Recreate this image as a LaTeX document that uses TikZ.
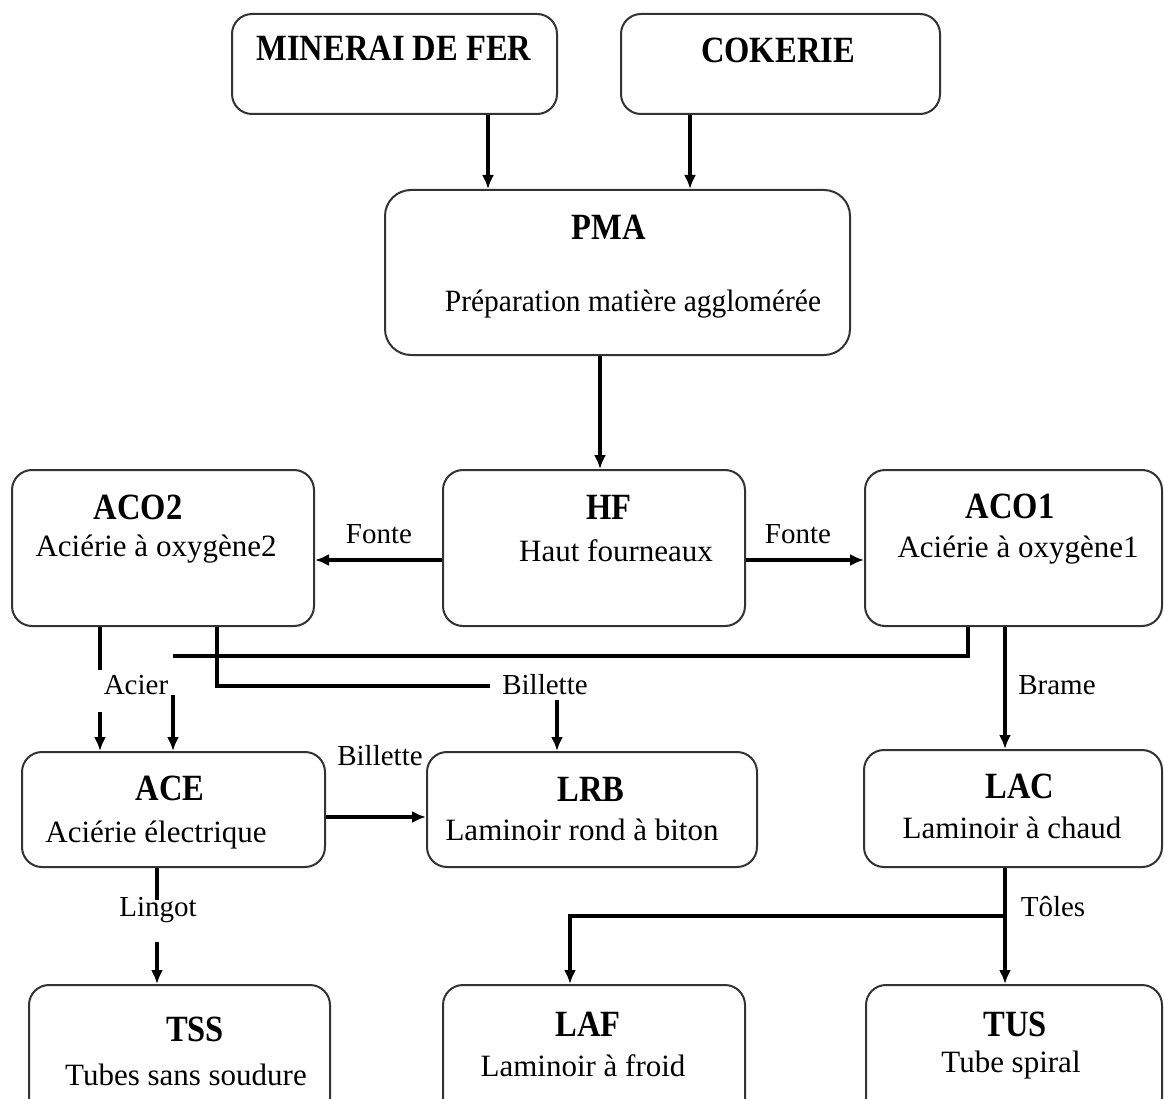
\documentclass[tikz,border=0pt]{standalone}
\usepackage{fontspec}
\setmainfont{Liberation Serif}
\usepackage{graphicx}
\usetikzlibrary{arrows.meta}
\newcommand\ttl[1]{\scalebox{0.88}[1]{#1}}
\begin{document}
\begin{tikzpicture}[x=1pt,y=-1pt,
  box/.style={draw=black!80, line width=2pt, rounded corners=20pt, fill=white, inner sep=0pt},
  title/.style={inner sep=0pt, anchor=base, font=\fontsize{37}{40}\selectfont\bfseries},
  body/.style={inner sep=0pt, anchor=base, font=\fontsize{31}{34}\selectfont},
  lab/.style={inner sep=0pt, anchor=base, font=\fontsize{29}{32}\selectfont},
  conn/.style={line width=3.5pt},
  arr/.style={conn, -{Latex[length=14pt,width=12pt]}}]
\useasboundingbox (0,0) rectangle (1164,1099);
\clip (0,0) rectangle (1164,1099);
\fill[white] (0,0) rectangle (1164,1099);

% boxes
\node[box, minimum width=325pt, minimum height=100pt] (min) at (394.5,64) {};
\node[box, minimum width=319pt, minimum height=100pt] (cok) at (780.5,64) {};
\node[box, minimum width=465pt, minimum height=165pt, rounded corners=26pt] (pma) at (617.5,272.5) {};
\node[box, minimum width=302pt, minimum height=156pt] (hf) at (594,548) {};
\node[box, minimum width=302pt, minimum height=156pt] (aco2) at (163,548) {};
\node[box, minimum width=297pt, minimum height=156pt] (aco1) at (1013.5,548) {};
\node[box, minimum width=303pt, minimum height=115pt] (ace) at (173.5,809.5) {};
\node[box, minimum width=330pt, minimum height=115pt] (lrb) at (592,809.5) {};
\node[box, minimum width=298pt, minimum height=117pt] (lac) at (1013,808.5) {};
\node[box, minimum width=301pt, minimum height=145pt] (tss) at (179.5,1057.5) {};
\node[box, minimum width=302pt, minimum height=145pt] (laf) at (594,1057.5) {};
\node[box, minimum width=296pt, minimum height=145pt] (tus) at (1014,1057.5) {};

% texts
\node[title] (tmin) at (394,61) {\ttl{MINERAI DE FER}};
\node[title] (tcok) at (778,63) {\ttl{COKERIE}};
\node[title] (tpma) at (609,240) {\ttl{PMA}};
\node[body] (bpma) at (633,312) {\scalebox{0.95}[1]{Préparation matière agglomérée}};
\node[title] (thf) at (609,519) {\ttl{HF}};
\node[body] (bhf) at (616,561) {Haut fourneaux};
\node[title] (taco2) at (138,519) {\ttl{ACO2}};
\node[body] (baco2) at (156,556) {Aciérie à oxygène2};
\node[title] (taco1) at (1010,518) {\ttl{ACO1}};
\node[body] (baco1) at (1018,557) {Aciérie à oxygène1};
\node[title] (tace) at (170,800) {\ttl{ACE}};
\node[body] (bace) at (156,842) {Aciérie électrique};
\node[title] (tlrb) at (591,801) {\ttl{LRB}};
\node[body] (blrb) at (582,840) {Laminoir rond à biton};
\node[title] (tlac) at (1020,798) {\ttl{LAC}};
\node[body] (blac) at (1012,838) {Laminoir à chaud};
\node[title] (ttss) at (195,1041) {\ttl{TSS}};
\node[body] (btss) at (186,1085) {Tubes sans soudure};
\node[title] (tlaf) at (588,1036) {\ttl{LAF}};
\node[body] (blaf) at (583,1076) {Laminoir à froid};
\node[title] (ttus) at (1015,1036) {\ttl{TUS}};
\node[body] (btus) at (1011,1072) {Tube spiral};

% x / y guides
\coordinate (x100) at (100,0);
\coordinate (x157) at (157,0);
\coordinate (x173) at (173,0);
\coordinate (x217) at (217,0);
\coordinate (x488) at (488,0);
\coordinate (x557) at (557,0);
\coordinate (x570) at (570,0);
\coordinate (x600) at (600,0);
\coordinate (x690) at (690,0);
\coordinate (x968) at (968,0);
\coordinate (x1005) at (1005,0);
\coordinate (y560) at (0,560);
\coordinate (y817) at (0,817);

% connectors
\draw[arr] (min.south -| x488) -- (pma.north -| x488);
\draw[arr] (cok.south -| x690) -- (pma.north -| x690);
\draw[arr] (pma.south -| x600) -- (hf.north -| x600);
\draw[arr] (hf.west |- y560) -- (aco2.east |- y560);
\draw[arr] (hf.east |- y560) -- (aco1.west |- y560);

% ACO2 -> ACE (Acier)
\coordinate (a1) at (100,670);
\coordinate (a2) at (100,712);
\draw[conn] (aco2.south -| x100) -- (a1);
\draw[arr] (a2) -- (ace.north -| x100);
% ACO1 -> ACE (Acier)
\coordinate (b1) at (173,656);
\coordinate (b2) at (173,695);
\draw[conn] (aco1.south -| x968) |- (b1);
\draw[arr] (b2) -- (ace.north -| x173);
% ACO2 -> LRB (Billette)
\coordinate (c1) at (490,686);
\coordinate (c2) at (557,700);
\draw[conn] (aco2.south -| x217) |- (c1);
\draw[arr] (c2) -- (lrb.north -| x557);
% ACE -> LRB
\draw[arr] (ace.east |- y817) -- (lrb.west |- y817);
% ACO1 -> LAC
\draw[arr] (aco1.south -| x1005) -- (lac.north -| x1005);
% LAC -> TUS, LAF
\coordinate (d1) at (1005,916);
\draw[arr] (lac.south -| x1005) -- (tus.north -| x1005);
\draw[arr] (d1) -| (laf.north -| x570);
% ACE -> TSS
\coordinate (e1) at (157,900);
\coordinate (e2) at (157,942);
\draw[conn] (ace.south -| x157) -- (e1);
\draw[arr] (e2) -- (tss.north -| x157);

% labels
\node[lab] (lf1) at (379,543) {Fonte};
\node[lab] (lf2) at (798,543) {Fonte};
\node[lab] (lac1) at (136,694) {Acier};
\node[lab] (lbi1) at (545,694) {Billette};
\node[lab] (lbi2) at (380,765) {Billette};
\node[lab] (lbr) at (1057,694) {Brame};
\node[lab] (lli) at (158,916) {Lingot};
\node[lab] (lto) at (1053,916) {Tôles};
\end{tikzpicture}
\end{document}
